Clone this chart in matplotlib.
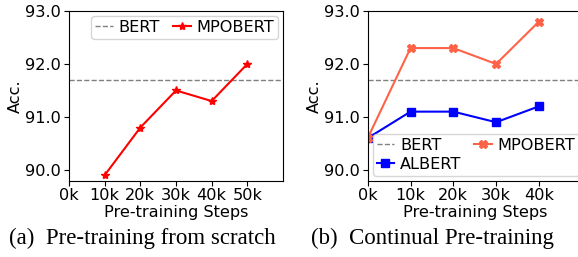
import matplotlib
matplotlib.use("Agg")
import matplotlib.pyplot as plt

# Data
steps_a = [10, 20, 30, 40, 50]
mpobert_a = [89.9, 90.8, 91.5, 91.3, 92.0]
steps_b = [0, 10, 20, 30, 40]
mpobert_b = [90.6, 92.3, 92.3, 92.0, 92.8]
albert_b = [90.6, 91.1, 91.1, 90.9, 91.2]
bert_acc = 91.7
xticks_a = [0, 10, 20, 30, 40, 50]
xticks_b = [0, 10, 20, 30, 40]
yticks = [90.0, 91.0, 92.0, 93.0]

plt.rcParams['font.family'] = ['DejaVu Sans']
fs = 11.6

fig = plt.figure(figsize=(5.78, 2.57), dpi=100)
W, H = 578, 257
axw = 214 / W
axb = (257 - 180.5) / H
axh = 169.5 / H
ax1 = fig.add_axes([69 / W, axb, axw, axh])
ax2 = fig.add_axes([367.7 / W, axb, axw, axh])

# Panel (a)
ax1.axhline(bert_acc, color='gray', ls='--', lw=1, label='BERT')
ax1.plot(steps_a, mpobert_a, color='red', marker='*', ms=6, lw=1.5, label='MPOBERT')
ax1.set_xlim(0, 60)
ax1.set_xticks(xticks_a)
ax1.set_xticklabels([f"{v}k" for v in xticks_a])
ax1.legend(loc='upper right', ncol=2, fontsize=fs, handlelength=1.1, handletextpad=0.35,
           columnspacing=0.8, borderpad=0.25, borderaxespad=0.3)

# Panel (b)
ax2.axhline(bert_acc, color='gray', ls='--', lw=1, label='BERT')
ax2.plot(steps_b, albert_b, color='blue', marker='s', ms=5.5, lw=1.5, label='ALBERT')
ax2.plot(steps_b, mpobert_b, color='tomato', marker='X', ms=6, lw=1.5, label='MPOBERT')
ax2.set_xlim(0, 50)
ax2.set_xticks(xticks_b)
ax2.set_xticklabels([f"{v}k" for v in xticks_b])
ax2.legend(loc='lower left', ncol=2, fontsize=fs, handlelength=1.1, handletextpad=0.35,
           columnspacing=0.8, borderpad=0.25, borderaxespad=0.3, labelspacing=0.25)

for ax in (ax1, ax2):
    ax.set_ylim(89.8, 93.0)
    ax.set_yticks(yticks)
    ax.set_yticklabels([f"{v:.1f}" for v in yticks])
    ax.tick_params(labelsize=fs, pad=2)
    ax.set_ylabel('Acc.', fontsize=fs, labelpad=2)
    ax.set_xlabel('Pre-training Steps', fontsize=fs, labelpad=1)

fig.text(142 / W, 1 - 238 / H, '(a)  Pre-training from scratch', family='Liberation Serif',
         fontsize=16.5, ha='center', va='center')
fig.text(432 / W, 1 - 238 / H, '(b)  Continual Pre-training', family='Liberation Serif',
         fontsize=16.5, ha='center', va='center')

fig.savefig('out.png', dpi=100)
